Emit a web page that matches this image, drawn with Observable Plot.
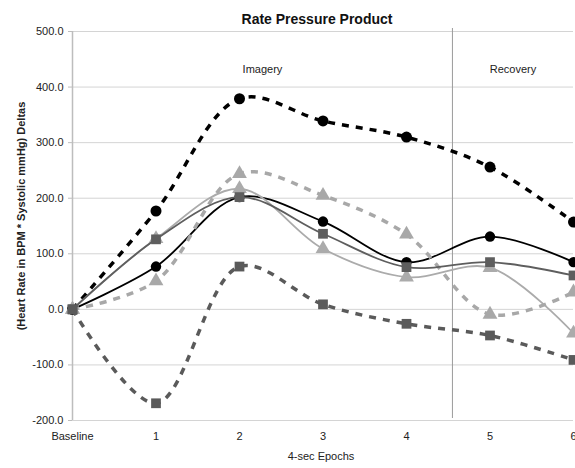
<!DOCTYPE html>
<html>
<head>
<meta charset="utf-8">
<script src="https://cdn.jsdelivr.net/npm/d3@7"></script>
<script src="https://cdn.jsdelivr.net/npm/@observablehq/plot@0.6"></script>
<style>
  html, body { margin: 0; padding: 0; background: #fff; }
</style>
</head>
<body>
<div id="chart"></div>
<script>
const title = "Rate Pressure Product";
const yLabel = "(Heart Rate in BPM * Systolic mmHg) Deltas";
const xLabel = "4-sec Epochs";
const epochs = [0, 1, 2, 3, 4, 5, 6];
const epochLabels = ["Baseline", "1", "2", "3", "4", "5", "6"];
const yTicks = [-200, -100, 0, 100, 200, 300, 400, 500];

const seriesA = [0, 177, 379, 339, 310, 256, 157];   // black dashed, circles
const seriesB = [0, 77, 202, 158, 85, 131, 85];      // black solid, circles
const seriesC = [0, 126, 202, 136, 76, 85, 61];      // dark gray solid, squares
const seriesD = [0, 127, 217, 109, 58, 75, -43];     // light gray solid, triangles
const seriesE = [0, 51, 244, 205, 135, -9, 31];      // light gray dashed, triangles
const seriesF = [0, -169, 77, 9, -26, -47, -91];     // dark gray dashed, squares

const phaseBoundary = 4.55;
const phaseNames = ["Imagery", "Recovery"];

const styles = [
  {values: seriesA, stroke: "#000000", dash: "7,7", width: 3.5, symbol: "circle", r: 5.5},
  {values: seriesB, stroke: "#000000", dash: null, width: 1.8, symbol: "circle", r: 5.2},
  {values: seriesD, stroke: "#ababab", dash: null, width: 1.8, symbol: "triangle", r: 5.5},
  {values: seriesE, stroke: "#a8a8a8", dash: "7,7", width: 3.5, symbol: "triangle", r: 5.5},
  {values: seriesC, stroke: "#5e5e5e", dash: null, width: 1.8, symbol: "square", r: 5.5},
  {values: seriesF, stroke: "#5a5a5a", dash: "7,7", width: 3.5, symbol: "square", r: 5.5}
];

const phases = [
  {name: phaseNames[0], start: 0, end: phaseBoundary},
  {name: phaseNames[1], start: phaseBoundary, end: 6}
];

const seriesMarks = styles.flatMap(s => {
  const rows = epochs.map((e, i) => ({epoch: e, value: s.values[i]}));
  return [
    Plot.line(rows, {x: "epoch", y: "value", curve: "catmull-rom", stroke: s.stroke,
      strokeWidth: s.width, strokeDasharray: s.dash || undefined, strokeLinecap: "butt"}),
    Plot.dot(rows, {x: "epoch", y: "value", symbol: () => s.symbol, r: s.r, fill: s.stroke, stroke: "none"})
  ];
});

const chart = Plot.plot({
  width: 575,
  height: 468,
  marginTop: 31,
  marginBottom: 48,
  marginLeft: 72,
  marginRight: 2,
  style: {fontFamily: "'Liberation Sans', Arial, sans-serif", fontSize: "11px", background: "#fff", color: "#222"},
  x: {domain: [0, 6], axis: null},
  y: {domain: [-200, 500], axis: null},
  symbol: {type: "identity"},
  marks: [
    Plot.gridY(yTicks, {stroke: "#d4d4d4", strokeOpacity: 1, strokeWidth: 1}),
    Plot.ruleX([0], {stroke: "#bdbdbd", strokeWidth: 1.5}),
    Plot.ruleX([phaseBoundary], {stroke: "#9a9a9a", strokeWidth: 1, insetTop: -3, insetBottom: 2}),
    Plot.axisY(yTicks, {tickSize: 4, tickPadding: 5, stroke: "#bdbdbd", fill: "#222",
      tickFormat: d => d.toFixed(1), label: null}),
    Plot.axisX(epochs, {tickSize: 0, tickPadding: 12, fill: "#222",
      tickFormat: (d, i) => epochLabels[i], label: null}),
    Plot.text(phases, {x: d => (d.start + d.end) / 2, text: "name", frameAnchor: "top", dy: 34, fill: "#222", dx: 0}),
    ...seriesMarks,
    Plot.text([title], {frameAnchor: "top", dy: -17, dx: -6, fontWeight: "bold", fontSize: 14, fill: "#111"}),
    Plot.text([xLabel], {frameAnchor: "bottom", dy: 39, dx: -2, fill: "#222"}),
    Plot.text([yLabel], {frameAnchor: "left", textAnchor: "middle", dx: -51, dy: -10, rotate: -90, fontWeight: "bold", fill: "#222"})
  ]
});
document.getElementById("chart").appendChild(chart);
</script>
</body>
</html>
